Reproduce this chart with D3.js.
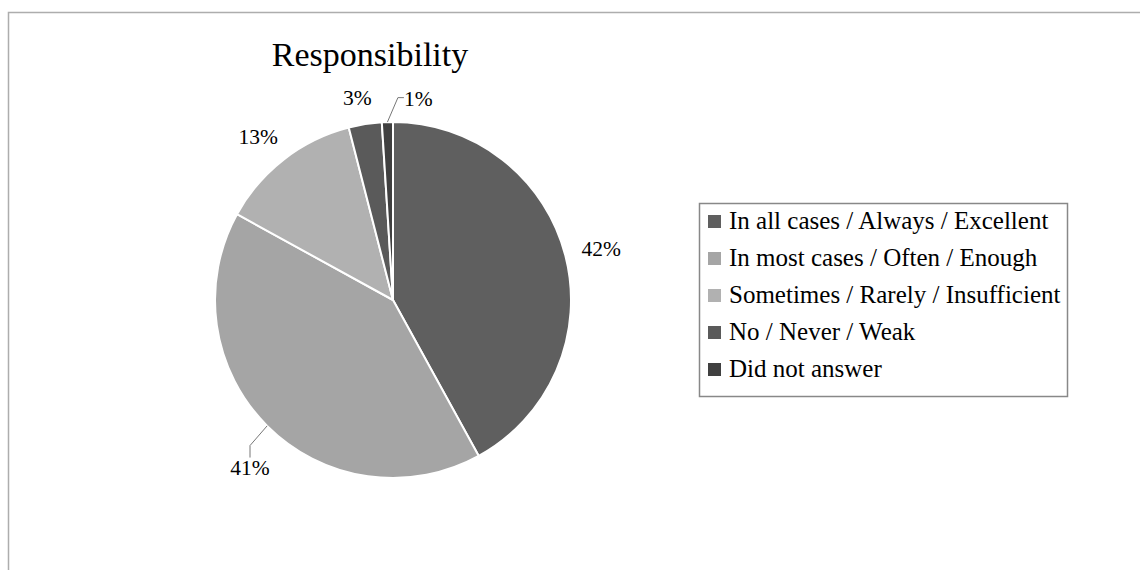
<!DOCTYPE html>
<html>
<head>
<meta charset="utf-8">
<script src="https://cdn.jsdelivr.net/npm/d3@7"></script>
<style>
  body { margin: 0; background: #fff; }
</style>
</head>
<body>
<script>
// chart data
var categories = [
    'In all cases / Always / Excellent',
    'In most cases / Often / Enough',
    'Sometimes / Rarely / Insufficient',
    'No / Never / Weak',
    'Did not answer'
];
var values = [42, 41, 13, 3, 1];
var labels = ['42%', '41%', '13%', '3%', '1%'];
var colors = ['#5f5f5f', '#a5a5a5', '#b1b1b1', '#5a5a5a', '#404040'];

// labels that Excel pulled off their slot (with a leader line)
var labelShift = [[0, 2], [9, 15], [-3, 6], [-2, 10], [32, 13]];
var hasLeader = [false, true, false, false, true];

var width = 1140, height = 570;
var cx = 393, cy = 300, radius = 178;
var serif = 'Liberation Serif, DejaVu Serif, serif';

var svg = d3.select('body').append('svg')
    .attr('width', width)
    .attr('height', height)
    .style('display', 'block')
    .attr('font-family', serif);

// outer frame (runs off the right and bottom)
svg.append('rect')
    .attr('x', 8.5)
    .attr('y', 12.5)
    .attr('width', 1300)
    .attr('height', 700)
    .attr('fill', 'none')
    .attr('stroke', '#adadad')
    .attr('stroke-width', 1.5);

svg.append('text')
    .attr('x', 370)
    .attr('y', 66)
    .attr('text-anchor', 'middle')
    .attr('font-family', serif)
    .attr('font-size', 34)
    .attr('fill', '#000')
    .text('Responsibility');

var pie = d3.pie().sort(null).value(function(d) { return d; });
var arcs = pie(values);

var arc = d3.arc().innerRadius(0).outerRadius(radius);
var labelArc = d3.arc().innerRadius(radius + 37).outerRadius(radius + 37);
var edgeArc = d3.arc().innerRadius(radius).outerRadius(radius);

var g = svg.append('g').attr('transform', 'translate(' + cx + ',' + cy + ')');

g.selectAll('.slice')
    .data(arcs)
    .enter()
        .append('path')
        .attr('class', 'slice')
        .attr('d', arc)
        .attr('fill', function(d, i) { return colors[i]; })
        .attr('stroke', '#fff')
        .attr('stroke-width', 2)
        .attr('stroke-linejoin', 'round');

var labelSel = g.selectAll('.lbl')
    .data(arcs)
    .enter()
        .append('text')
        .attr('class', 'lbl')
        .attr('x', function(d, i) { return labelArc.centroid(d)[0] + labelShift[i][0]; })
        .attr('y', function(d, i) { return labelArc.centroid(d)[1] + labelShift[i][1]; })
        .attr('dy', '0.35em')
        .attr('text-anchor', 'middle')
        .attr('font-family', serif)
        .attr('font-size', 21.5)
        .attr('fill', '#000')
        .text(function(d, i) { return labels[i]; });

// leader lines
labelSel.each(function(d, i) {
    if (!hasLeader[i]) return;
    var box = this.getBBox();
    var start = edgeArc.centroid(d);
    var pts;
    if (box.y > 0) {
        var lx = box.x + box.width / 2;
        pts = [start, [lx, box.y - 10], [lx, box.y + 2]];
    } else {
        var ly = box.y + box.height / 2 - 1;
        pts = [start, [box.x - 6, ly], [box.x, ly]];
    }
    g.append('path')
        .attr('d', d3.line()(pts))
        .attr('fill', 'none')
        .attr('stroke', '#777')
        .attr('stroke-width', 1);
});

// legend
var legend = {
    x: 699, y: 203, width: 368, rowH: 37, font: 25
};
svg.append('rect')
    .attr('x', legend.x + 0.5)
    .attr('y', legend.y + 0.5)
    .attr('width', legend.width)
    .attr('height', legend.rowH * categories.length + 8)
    .attr('fill', '#fff')
    .attr('stroke', '#888')
    .attr('stroke-width', 1.5);

var rows = svg.selectAll('.legendRow')
    .data(categories)
    .enter()
        .append('g')
        .attr('class', 'legendRow')
        .attr('transform', function(d, i) {
            return 'translate(' + (legend.x + 9) + ',' + (legend.y + 26 + i * legend.rowH) + ')';
        });

rows.append('rect')
    .attr('x', 0)
    .attr('y', -14)
    .attr('width', 13)
    .attr('height', 13)
    .attr('fill', function(d, i) { return colors[i]; });

rows.append('text')
    .attr('x', 21)
    .attr('y', 0)
    .attr('font-family', serif)
    .attr('font-size', legend.font)
    .attr('fill', '#000')
    .text(function(d) { return d; });
</script>
</body>
</html>
